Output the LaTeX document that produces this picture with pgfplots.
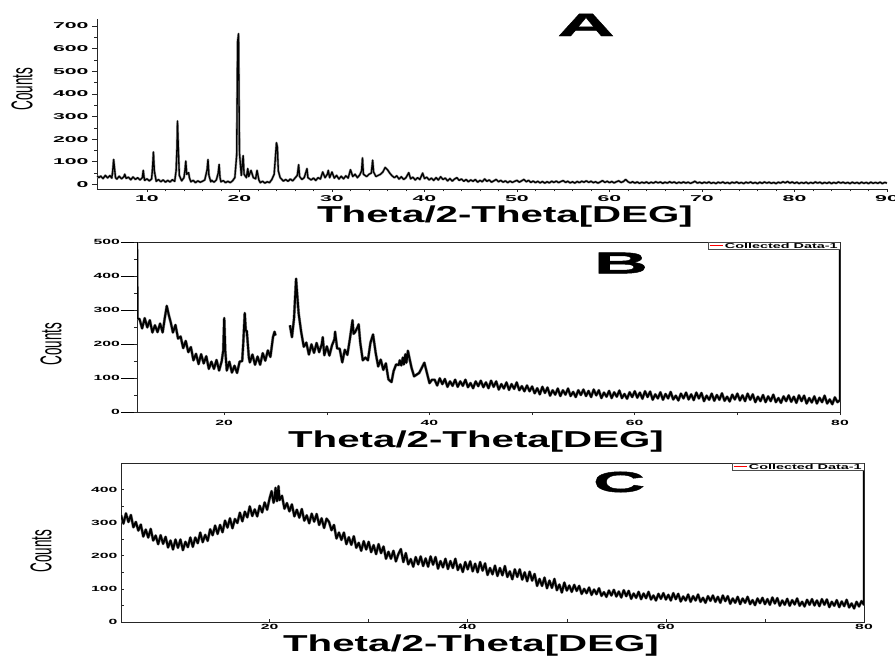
\documentclass[border=0pt]{standalone}
\usepackage{fontspec}
\setmainfont{Liberation Sans}
\newfontfamily\tickA[FakeStretch=2.5]{Liberation Sans}
\newfontfamily\tickB[FakeStretch=2.1]{Liberation Sans}
\newfontfamily\labfont[FakeStretch=1.75]{Liberation Sans}
\newfontfamily\bigfont[FakeStretch=2.5,FakeBold=1.5]{Liberation Sans}
\newfontfamily\cntfont[FakeStretch=0.45]{Liberation Sans}
\newfontfamily\legfont[FakeStretch=2.0]{Liberation Sans}
\usepackage{pgfplots}
\pgfplotsset{compat=1.18}

\pgfplotsset{
  xrd/.style={
    scale only axis,
    axis line style={black!85, line width=0.8pt, -},
    tick style={black!85, line width=0.6pt},
    /pgf/number format/assume math mode=true,
    /pgf/number format/1000 sep={},
    clip=true,
  },
  trace/.style={black, line width=1.3pt, line join=round,
    preaction={draw, black!40, line width=2.4pt}, forget plot},
  thick trace/.style={black, line width=1.9pt, line join=round,
    preaction={draw, black!45, line width=2.9pt}, forget plot},
}
\tikzset{legbox/.style={draw=black!70, line width=0.5pt, inner xsep=2pt, inner ysep=1pt, fill=white,
  anchor=north east, font=\legfont\bfseries\fontsize{7.2}{7.2}\selectfont}}
\newcommand{\legtext}{\hspace*{15pt}Collected Data-1}

\begin{document}
\begin{tikzpicture}
\path[use as bounding box] (0,0) rectangle (895pt,657pt);

% ---------------- A ----------------
\begin{axis}[xrd,
  at={(97pt,468pt)}, anchor=south west,
  width=790pt, height=170pt,
  axis x line*=bottom, axis y line*=left,
  xmin=4.6, xmax=90, ymin=-20, ymax=730,
  xtick={10,20,...,90}, ytick={0,100,...,700},
  minor x tick num=4, minor y tick num=1,
  tick align=outside, major tick length=5pt, minor tick length=2.5pt,
  xtick style={/pgfplots/major tick length=3pt},
  xticklabel style={yshift=2pt},
  ticklabel style={font=\tickA\bfseries\fontsize{8.5}{9}\selectfont},
]
\addplot[trace] coordinates {
(4.6,38) (4.8,30) (5.0,37) (5.25,26) (5.5,40) (5.75,29) (6.0,39) (6.2,28) (6.3,60) (6.4,110) (6.5,70) (6.6,30)
(6.75,24) (7.0,36) (7.25,25) (7.5,34) (7.6,45) (7.75,27) (8.0,32) (8.25,21) (8.5,33) (8.75,22) (9.0,30) (9.25,20)
(9.5,30) (9.6,62) (9.7,28) (9.75,18) (10.0,25) (10.25,16) (10.5,24) (10.6,70) (10.7,143) (10.8,60) (11.0,14)
(11.25,22) (11.5,12) (11.75,20) (12.0,10) (12.25,18) (12.5,11) (12.75,21) (13.0,14) (13.15,60) (13.25,165)
(13.3,280) (13.4,150) (13.5,40) (13.75,16) (14.0,30) (14.1,60) (14.2,103) (14.3,45) (14.5,52) (14.6,28)
(14.75,12) (15.0,18) (15.25,8) (15.5,16) (15.75,10) (16.0,14) (16.25,20) (16.5,65) (16.6,110) (16.7,40)
(16.9,12) (17.0,18) (17.25,10) (17.5,20) (17.7,50) (17.8,88) (17.9,30) (18.0,12) (18.25,17) (18.5,8)
(18.75,14) (19.0,8) (19.25,16) (19.5,30) (19.7,130) (19.8,630) (19.9,665) (20.0,140) (20.2,40) (20.4,127)
(20.5,45) (20.75,30) (20.9,70) (21.0,35) (21.25,62) (21.5,30) (21.75,25) (21.9,62) (22.1,20) (22.25,8)
(22.5,14) (22.75,6) (23.0,12) (23.25,8) (23.5,22) (23.75,45) (23.85,100) (24.0,184) (24.1,165) (24.2,60)
(24.4,30) (24.75,15) (25.0,22) (25.25,14) (25.5,24) (25.75,16) (26.0,28) (26.25,40) (26.4,87) (26.5,35)
(26.75,22) (27.0,30) (27.3,70) (27.4,30) (27.75,20) (28.0,28) (28.25,18) (28.5,30) (28.75,24) (29.0,55)
(29.25,30) (29.5,45) (29.6,62) (29.75,30) (30.0,55) (30.25,28) (30.5,40) (30.75,24) (31.0,36) (31.25,25)
(31.5,38) (31.75,28) (32.0,65) (32.25,35) (32.5,45) (32.75,30) (33.0,42) (33.2,60) (33.3,117) (33.4,45)
(33.75,35) (34.0,45) (34.25,50) (34.4,107) (34.5,55) (34.75,35) (35.0,40) (35.25,45) (35.5,55) (35.75,75)
(36.0,65) (36.25,50) (36.5,38) (36.75,30) (37.0,38) (37.25,24) (37.5,34) (37.75,22) (38.0,30) (38.3,52)
(38.5,25) (38.75,32) (39.0,20) (39.25,30) (39.5,22) (39.8,50) (40.0,26) (40.25,32) (40.5,20) (40.75,28)
(41.0,18) (41.25,30) (41.5,20) (41.75,34) (42.0,22) (42.25,28) (42.5,16) (42.75,26) (43.0,15) (43.25,24)
(43.5,30) (43.75,18) (44.0,24) (44.25,14) (44.5,22) (44.75,12) (45.0,20) (45.25,14) (45.5,22) (45.75,10)
(46.0,18) (46.25,12) (46.5,24) (46.75,14) (47.0,20) (47.25,10) (47.5,16) (47.75,22) (48.0,12) (48.25,18)
(48.5,10) (48.75,16) (49.0,8) (49.25,15) (49.5,9) (49.75,14) (50.0,18) (50.25,10) (50.5,16) (50.75,22)
(51.0,12) (51.25,18) (51.5,9) (51.75,15) (52.0,8) (52.25,14) (52.5,7) (52.75,13) (53.0,6) (53.25,12)
(53.5,7) (53.75,14) (54.0,9) (54.25,15) (54.5,8) (54.75,13) (55.0,17) (55.25,9) (55.5,14) (55.75,7)
(56.0,12) (56.25,6) (56.5,13) (56.75,8) (57.0,14) (57.25,10) (57.5,16) (57.75,9) (58.0,14) (58.25,8)
(58.5,12) (58.75,6) (59.0,11) (59.25,17) (59.5,9) (59.75,14) (60.0,8) (60.25,13) (60.5,7) (60.75,12)
(61.0,16) (61.25,9) (61.5,13) (61.75,22) (62.0,12) (62.25,7) (62.5,12) (62.75,6) (63.0,11) (63.25,5)
(63.5,10) (63.75,6) (64.0,11) (64.25,5) (64.5,10) (64.75,6) (65.0,12) (65.25,7) (65.5,11) (65.75,5)
(66.0,10) (66.25,6) (66.5,12) (66.75,7) (67.0,11) (67.25,5) (67.5,10) (67.75,6) (68.0,11) (68.25,6)
(68.5,10) (68.75,5) (69.0,9) (69.25,14) (69.5,6) (69.75,10) (70.0,5) (70.25,10) (70.5,6) (70.75,11)
(71.0,5) (71.25,9) (71.5,4) (71.75,10) (72.0,6) (72.25,11) (72.5,5) (72.75,9) (73.0,4) (73.25,10)
(73.5,6) (73.75,11) (74.0,5) (74.25,9) (74.5,4) (74.75,10) (75.0,6) (75.25,11) (75.5,5) (75.75,9)
(76.0,4) (76.25,10) (76.5,5) (76.75,11) (77.0,6) (77.25,10) (77.5,5) (77.75,9) (78.0,4) (78.25,10)
(78.5,6) (78.75,12) (79.0,7) (79.25,13) (79.5,6) (79.75,11) (80.0,5) (80.25,10) (80.5,4) (80.75,9)
(81.0,5) (81.25,10) (81.5,4) (81.75,9) (82.0,5) (82.25,11) (82.5,6) (82.75,10) (83.0,4) (83.25,9)
(83.5,5) (83.75,10) (84.0,4) (84.25,9) (84.5,5) (84.75,11) (85.0,6) (85.25,10) (85.5,5) (85.75,9)
(86.0,4) (86.25,10) (86.5,5) (86.75,9) (87.0,4) (87.25,10) (87.5,5) (87.75,9) (88.0,4) (88.25,10)
(88.5,5) (88.75,9) (89.0,5) (89.25,10) (89.5,4) (89.75,9) (90.0,6)
};
\end{axis}

% ---------------- B ----------------
\begin{axis}[xrd,
  at={(137pt,245pt)}, anchor=south west,
  width=703pt, height=170pt,
  tick pos=left,
  xmin=11.5, xmax=80, ymin=0, ymax=500,
  xtick={20,40,60,80}, minor xtick={30,50,70},
  ytick={0,100,...,500}, minor y tick num=1,
  tick align=outside, major tick length=3pt, minor tick length=3pt,
  yticklabel={\pgfmathprintnumber{\tick}\kern1pt\rule[2.4pt]{13pt}{0.6pt}},
  yticklabel style={inner xsep=0pt},
  xticklabel style={yshift=-2pt},
  ticklabel style={font=\tickB\bfseries\fontsize{7.5}{8}\selectfont},
]
\addplot[thick trace] coordinates {
(11.5,500) (11.55,275) (11.75,273) (12.0,246) (12.25,276) (12.5,249) (12.75,270) (13.0,234) (13.25,255)
(13.5,235) (13.75,260) (14.0,234) (14.2,275) (14.4,312) (14.6,285) (14.8,262) (15.0,234) (15.25,256)
(15.5,216) (15.75,222) (16.0,188) (16.25,209) (16.5,176) (16.75,191) (17.0,152) (17.25,171) (17.5,141)
(17.75,170) (18.0,143) (18.25,164) (18.5,127) (18.75,148) (19.0,127) (19.25,153) (19.5,122) (19.75,149)
(19.9,180) (20.0,276) (20.1,180) (20.25,122) (20.5,148) (20.75,116) (21.0,136) (21.25,115) (21.5,148)
(21.75,150) (21.85,200) (22.0,291) (22.1,240) (22.2,238) (22.4,160) (22.5,146) (22.75,169) (23.0,139)
(23.25,163) (23.5,139) (23.75,173) (24.0,151) (24.25,181) (24.5,162) (24.75,220) (24.9,236) (25.0,225)
};
\addplot[thick trace] coordinates {
(26.4,255) (26.6,220) (26.8,275) (27.0,392) (27.1,350) (27.25,290) (27.5,235) (27.75,192) (28.0,204)
(28.25,169) (28.5,199) (28.75,174) (29.0,203) (29.25,176) (29.5,199) (29.6,220) (29.75,167) (30.0,193)
(30.25,166) (30.5,196) (30.75,215) (30.8,236) (31.0,187) (31.25,186) (31.5,146) (31.75,183) (32.0,168)
(32.25,216) (32.5,270) (32.6,230) (32.75,235) (33.0,250) (33.1,258) (33.25,205) (33.5,152) (33.75,160)
(34.0,152) (34.25,204) (34.5,228) (34.75,175) (35.0,134) (35.25,154) (35.5,124) (35.75,143) (36.0,96)
(36.3,88) (36.5,120) (36.75,140) (37.0,138) (37.1,152) (37.25,137) (37.4,160) (37.5,140) (37.65,170)
(37.75,145) (37.9,180) (38.0,165) (38.25,130) (38.5,105) (38.75,110) (39.0,115) (39.25,130) (39.5,145)
(39.75,115) (40.0,85) (40.25,95) (40.5,95) (40.75,78) (41.0,99) (41.25,82) (41.5,97) (41.75,74) (42.0,90)
(42.25,77) (42.5,95) (42.75,74) (43.0,90) (43.25,77) (43.5,95) (43.75,73) (44.0,85) (44.25,70) (44.5,90)
(44.75,76) (45.0,92) (45.25,73) (45.5,87) (45.75,70) (46.0,92) (46.25,74) (46.5,90) (46.75,66) (47.0,82)
(47.25,69) (47.5,87) (47.75,65) (48.0,82) (48.25,68) (48.5,87) (48.75,64) (49.0,76) (49.25,61) (49.5,78)
(49.75,61) (50.0,75) (50.25,55) (50.5,70) (50.75,52) (51.0,74) (51.25,56) (51.5,72) (51.75,48) (52.0,64)
(52.25,51) (52.5,69) (52.75,47) (53.0,64) (53.25,51) (53.5,69) (53.75,47) (54.0,59) (54.25,44) (54.5,64)
(54.75,50) (55.0,66) (55.25,47) (55.5,62) (55.75,44) (56.0,66) (56.25,49) (56.5,64) (56.75,41) (57.0,57)
(57.25,45) (57.5,62) (57.75,41) (58.0,58) (58.25,45) (58.5,63) (58.75,41) (59.0,53) (59.25,39) (59.5,58)
(59.75,44) (60.0,61) (60.25,42) (60.5,57) (60.75,39) (61.0,61) (61.25,44) (61.5,60) (61.75,36) (62.0,52)
(62.25,40) (62.5,58) (62.75,36) (63.0,53) (63.25,40) (63.5,59) (63.75,37) (64.0,48) (64.25,34) (64.5,54)
(64.75,40) (65.0,57) (65.25,37) (65.5,52) (65.75,35) (66.0,57) (66.25,40) (66.5,56) (66.75,32) (67.0,48)
(67.25,36) (67.5,54) (67.75,33) (68.0,50) (68.25,36) (68.5,55) (68.75,33) (69.0,45) (69.25,31) (69.5,51)
(69.75,37) (70.0,54) (70.25,34) (70.5,49) (70.75,32) (71.0,54) (71.25,36) (71.5,52) (71.75,29) (72.0,45)
(72.25,32) (72.5,50) (72.75,29) (73.0,46) (73.25,32) (73.5,51) (73.75,29) (74.0,41) (74.25,27) (74.5,46)
(74.75,32) (75.0,49) (75.25,30) (75.5,45) (75.75,27) (76.0,49) (76.25,32) (76.5,48) (76.75,25) (77.0,41)
(77.25,28) (77.5,46) (77.75,25) (78.0,42) (78.25,29) (78.5,48) (78.75,25) (79.0,37) (79.25,23) (79.5,43)
(79.75,29) (80.0,35) (80.0,500)
};
\node[legbox] (legB) at (rel axis cs:1,1) {\legtext};
\draw[red, line width=0.9pt] ([xshift=2pt]legB.west) -- ++(13pt,0pt);
\end{axis}

% ---------------- C ----------------
\begin{axis}[xrd,
  at={(121pt,35pt)}, anchor=south west,
  width=743pt, height=159pt,
  tick pos=left,
  xmin=5, xmax=80, ymin=0, ymax=480,
  xtick={20,40,60,80}, minor xtick={30,50,70},
  ytick={0,100,...,400}, minor y tick num=1,
  tick align=inside, major tick length=3pt, minor tick length=3pt,
  xticklabel style={yshift=1pt},
  ticklabel style={font=\tickB\bfseries\fontsize{7.5}{8}\selectfont},
]
\addplot[thick trace] coordinates {
(5.0,323) (5.25,297) (5.5,328) (5.75,302) (6.0,323) (6.25,286) (6.5,302) (6.75,276) (7.0,294) (7.25,258)
(7.5,279) (7.75,255) (8.0,281) (8.25,246) (8.5,261) (8.75,235) (9.0,262) (9.25,236) (9.5,257) (9.75,225)
(10.0,246) (10.25,219) (10.5,249) (10.75,224) (11.0,249) (11.25,217) (11.5,242) (11.75,226) (12.0,255)
(12.25,227) (12.5,255) (12.75,238) (13.0,270) (13.25,241) (13.5,263) (13.75,245) (14.0,280) (14.25,262)
(14.5,291) (14.75,266) (15.0,293) (15.25,271) (15.5,306) (15.75,285) (16.0,313) (16.25,283) (16.5,311)
(16.75,299) (17.0,330) (17.25,304) (17.5,333) (17.75,316) (18.0,349) (18.25,320) (18.5,340) (18.75,319)
(19.0,351) (19.25,331) (19.5,361) (19.75,339) (20.0,373) (20.2,395) (20.4,360) (20.5,372) (20.6,405)
(20.75,365) (20.9,410) (21.0,368) (21.25,381) (21.5,342) (21.75,359) (22.0,334) (22.25,355) (22.5,319)
(22.75,339) (23.0,315) (23.25,341) (23.5,306) (23.75,322) (24.0,298) (24.25,327) (24.5,303) (24.75,326)
(25.0,293) (25.25,313) (25.5,284) (25.75,312) (26.0,302) (26.25,277) (26.5,293) (26.75,252) (27.0,270)
(27.25,248) (27.5,270) (27.75,235) (28.0,256) (28.25,233) (28.5,259) (28.75,224) (29.0,239) (29.25,215)
(29.5,244) (29.75,219) (30.0,242) (30.25,211) (30.5,232) (30.75,205) (31.0,235) (31.25,208) (31.5,228)
(31.75,191) (32.0,212) (32.25,191) (32.5,215) (32.75,183) (33.0,205) (33.25,220) (33.5,181) (33.75,208)
(34.0,174) (34.25,190) (34.5,167) (34.75,196) (35.0,174) (35.25,198) (35.5,169) (35.75,192) (36.0,167)
(36.25,198) (36.5,173) (36.75,196) (37.0,161) (37.25,184) (37.5,165) (37.75,191) (38.0,160) (38.25,184)
(38.5,163) (38.75,191) (39.0,157) (39.25,174) (39.5,151) (39.75,181) (40.0,159) (40.25,183) (40.5,153)
(40.75,176) (41.0,150) (41.25,181) (41.5,155) (41.75,177) (42.0,142) (42.25,163) (42.5,144) (42.75,170)
(43.0,139) (43.25,163) (43.5,141) (43.75,169) (44.0,136) (44.25,153) (44.5,129) (44.75,159) (45.0,136)
(45.25,159) (45.5,128) (45.75,150) (46.0,123) (46.25,152) (46.5,125) (46.75,145) (47.0,109) (47.25,130)
(47.5,109) (47.75,134) (48.0,102) (48.25,125) (48.5,103) (48.75,130) (49.0,96) (49.25,113) (49.5,89)
(49.75,119) (50.0,95) (50.25,110) (50.5,91) (50.75,112) (51.0,94) (51.25,109) (51.5,85) (51.75,100)
(52.0,87) (52.25,104) (52.5,82) (52.75,98) (53.0,84) (53.25,102) (53.5,79) (53.75,90) (54.0,76) (54.25,95)
(54.5,80) (54.75,97) (55.0,77) (55.25,92) (55.5,74) (55.75,96) (56.0,78) (56.25,94) (56.5,70) (56.75,86)
(57.0,73) (57.25,91) (57.5,69) (57.75,86) (58.0,72) (58.25,91) (58.5,68) (58.75,80) (59.0,65) (59.25,85)
(59.5,70) (59.75,87) (60.0,68) (60.25,82) (60.5,65) (60.75,87) (61.0,69) (61.25,85) (61.5,62) (61.75,77)
(62.0,65) (62.25,83) (62.5,61) (62.75,78) (63.0,65) (63.25,83) (63.5,61) (63.75,73) (64.0,58) (64.25,78)
(64.5,64) (64.75,80) (65.0,61) (65.25,76) (65.5,58) (65.75,80) (66.0,63) (66.25,78) (66.5,55) (66.75,71)
(67.0,58) (67.25,76) (67.5,54) (67.75,71) (68.0,58) (68.25,76) (68.5,54) (68.75,66) (69.0,51) (69.25,71)
(69.5,57) (69.75,73) (70.0,54) (70.25,69) (70.5,52) (70.75,74) (71.0,56) (71.25,72) (71.5,49) (71.75,65)
(72.0,52) (72.25,70) (72.5,49) (72.75,66) (73.0,53) (73.25,71) (73.5,49) (73.75,61) (74.0,47) (74.25,67)
(74.5,52) (74.75,69) (75.0,50) (75.25,65) (75.5,48) (75.75,69) (76.0,52) (76.25,68) (76.5,45) (76.75,61)
(77.0,49) (77.25,66) (77.5,45) (77.75,62) (78.0,48) (78.25,67) (78.5,44) (78.75,56) (79.0,41) (79.25,61)
(79.5,47) (79.75,63) (80.0,52) (80.0,480)
};
\node[legbox] (legC) at (rel axis cs:1,1) {\legtext};
\draw[red, line width=0.9pt] ([xshift=2pt]legC.west) -- ++(13pt,0pt);
\end{axis}

% ---------------- labels ----------------
\node[inner sep=0] at (586pt,632pt) {\bigfont\bfseries\fontsize{32}{32}\selectfont A};
\node[inner sep=0] at (621pt,394pt) {\bigfont\bfseries\fontsize{30}{30}\selectfont B};
\node[inner sep=0] at (619pt,175pt) {\bigfont\bfseries\fontsize{29}{29}\selectfont C};

\node[inner sep=0] at (505pt,440pt) {\labfont\bfseries\fontsize{23}{23}\selectfont Theta/2-Theta[DEG]};
\node[inner sep=0] at (476pt,215pt) {\labfont\bfseries\fontsize{23}{23}\selectfont Theta/2-Theta[DEG]};
\node[inner sep=0] at (471pt,11pt) {\labfont\bfseries\fontsize{23}{23}\selectfont Theta/2-Theta[DEG]};

\node[inner sep=0, rotate=90] at (22pt,568pt) {\cntfont\fontsize{30}{30}\selectfont Counts};
\node[inner sep=0, rotate=90] at (51pt,313pt) {\cntfont\fontsize{30}{30}\selectfont Counts};
\node[inner sep=0, rotate=90] at (41pt,106pt) {\cntfont\fontsize{30}{30}\selectfont Counts};
\end{tikzpicture}
\end{document}
